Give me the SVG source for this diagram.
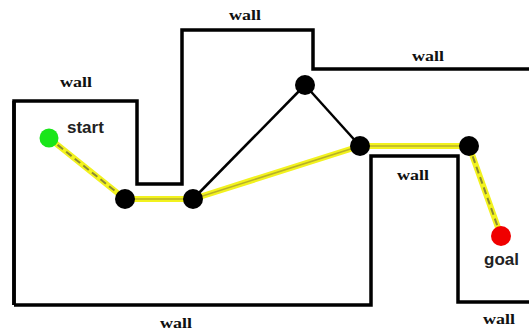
<svg xmlns="http://www.w3.org/2000/svg" width="529" height="330" viewBox="0 0 529 330">
<style>
.wall{fill:none;stroke:#000;stroke-width:3.5;stroke-linejoin:miter}
.wl{font-family:"Liberation Serif","Times New Roman",serif;font-weight:bold;font-size:14px;fill:#111;text-anchor:middle}
.lbl{font-family:"Liberation Sans",Arial,sans-serif;font-weight:bold;font-size:17px;fill:#222}
.path{stroke:#f2f21e;stroke-width:6;stroke-linecap:round;fill:none}
.core{stroke:#b8b028;stroke-width:1.5;fill:none}
.dash{stroke:#8c8a30;stroke-width:2;stroke-dasharray:7 4;fill:none}
.edge{stroke:#000;stroke-width:2.5;fill:none}
.node{fill:#000}
</style>
<rect width="529" height="330" fill="#fff"/>
<g id="walls">
<polyline class="wall" points="14,305 14,101 137,101 137,184 182,184 182,30 313,30 313,69 529,69"/>
<polyline class="wall" points="14,305 371,305 371,156 458,156 458,302 529,302"/>
<polyline class="wall" points="14,101 14,305"/>
</g>
<g id="wall-labels">
<text class="wl" x="76" y="87" textLength="32" lengthAdjust="spacingAndGlyphs">wall</text>
<text class="wl" x="245" y="20" textLength="32" lengthAdjust="spacingAndGlyphs">wall</text>
<text class="wl" x="428" y="61" textLength="32" lengthAdjust="spacingAndGlyphs">wall</text>
<text class="wl" x="413" y="180" textLength="32" lengthAdjust="spacingAndGlyphs">wall</text>
<text class="wl" x="176" y="328" textLength="32" lengthAdjust="spacingAndGlyphs">wall</text>
<text class="wl" x="499" y="324" textLength="32" lengthAdjust="spacingAndGlyphs">wall</text>
</g>
<g id="connectors">
<line class="edge" x1="193" y1="199" x2="305" y2="85"/>
<line class="edge" x1="305" y1="85" x2="360" y2="146"/>
<line class="path" x1="49" y1="138" x2="125" y2="199"/>
<line class="dash" x1="49" y1="138" x2="125" y2="199"/>
<line class="path" x1="125" y1="199" x2="193" y2="199"/>
<line class="core" x1="125" y1="199" x2="193" y2="199"/>
<line class="path" x1="193" y1="199" x2="360" y2="146"/>
<line class="core" x1="193" y1="199" x2="360" y2="146"/>
<line class="path" x1="360" y1="146" x2="469" y2="146"/>
<line class="core" x1="360" y1="146" x2="469" y2="146"/>
<line class="path" x1="469" y1="146" x2="501" y2="236"/>
<line class="dash" x1="469" y1="146" x2="501" y2="236"/>
</g>
<g id="start"><circle cx="49" cy="138" r="9.5" fill="#19e619"/><text class="lbl" x="67" y="133">start</text></g>
<g id="n1"><circle class="node" cx="125" cy="199" r="10"/></g>
<g id="n2"><circle class="node" cx="193" cy="199" r="10"/></g>
<g id="n3"><circle class="node" cx="305" cy="85" r="10"/></g>
<g id="n4"><circle class="node" cx="360" cy="146" r="10"/></g>
<g id="n5"><circle class="node" cx="469" cy="146" r="10"/></g>
<g id="goal"><circle cx="501" cy="236" r="10" fill="#f00000"/><text class="lbl" x="484" y="265">goal</text></g>
</svg>
